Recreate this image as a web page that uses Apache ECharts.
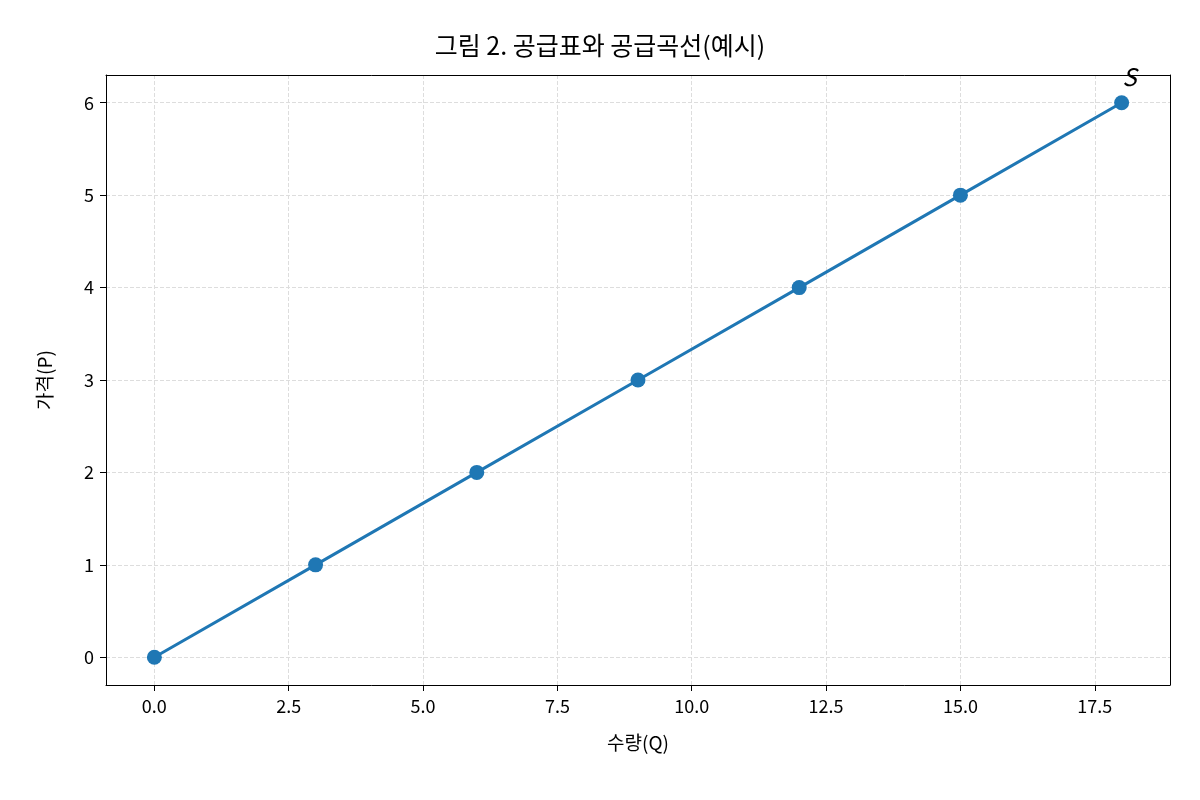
<!DOCTYPE html><html><head><meta charset="utf-8"><script src="https://cdn.jsdelivr.net/npm/echarts@6/dist/echarts.min.js"></script></head><body style="margin:0"><div id="c" style="width:1200px;height:800px"></div><script>
const qty=[0,3,6,9,12,15,18];
const price=[0,1,2,3,4,5,6];
const xTicks=[0,2.5,5,7.5,10,12.5,15,17.5];
const yTicks=[0,1,2,3,4,5,6];
const F='"Noto Sans CJK KR","Noto Sans",sans-serif';
const grid={type:'dashed',color:'#dddddd',width:1};
const ml=[...xTicks.map(v=>({xAxis:v})),...yTicks.map(v=>({yAxis:v}))];
const box={type:'value',min:0,max:1,axisLine:{show:true,onZero:false,lineStyle:{color:'#000'}},axisTick:{show:false},axisLabel:{show:false},splitLine:{show:false}};
const c=echarts.init(document.getElementById('c'));
c.setOption({
 animation:false,
 title:{text:'그림 2. 공급표와 공급곡선(예시)',left:'center',top:28,textStyle:{fontFamily:F,fontSize:25,fontWeight:'normal',color:'#000'}},
 grid:{left:106,right:30,top:75,bottom:115},
 xAxis:[{type:'value',min:-0.9,max:18.9,name:'수량(Q)',nameLocation:'middle',nameGap:48,nameTextStyle:{fontFamily:F,fontSize:19,color:'#000'},
  axisLine:{onZero:false,lineStyle:{color:'#000'}},splitLine:{show:false},
  axisTick:{customValues:xTicks,length:6,lineStyle:{color:'#000'}},
  axisLabel:{customValues:xTicks,formatter:v=>v.toFixed(1),fontFamily:F,fontSize:18,color:'#000',margin:12}},
  Object.assign({position:'top'},box)],
 yAxis:[{type:'value',min:-0.3,max:6.3,name:'가격(P)',nameLocation:'middle',nameGap:52,nameTextStyle:{fontFamily:F,fontSize:19,color:'#000'},
  axisLine:{show:true,onZero:false,lineStyle:{color:'#000'}},splitLine:{show:false},
  axisTick:{show:true,customValues:yTicks,length:6,lineStyle:{color:'#000'}},
  axisLabel:{customValues:yTicks,fontFamily:F,fontSize:18,color:'#000',margin:12}},
  Object.assign({position:'right'},box)],
 series:[{type:'line',data:qty.map((q,i)=>[q,price[i]]),symbol:'circle',symbolSize:15,
  lineStyle:{color:'#1f77b4',width:3},itemStyle:{color:'#1f77b4'},
  label:{show:true,formatter:p=>p.dataIndex===qty.length-1?'S':'',position:[8,-30],fontFamily:F,fontStyle:'italic',fontSize:24,color:'#000'},
  markLine:{silent:true,symbol:'none',label:{show:false},lineStyle:grid,data:ml,z:-1}}]
});
</script></body></html>
